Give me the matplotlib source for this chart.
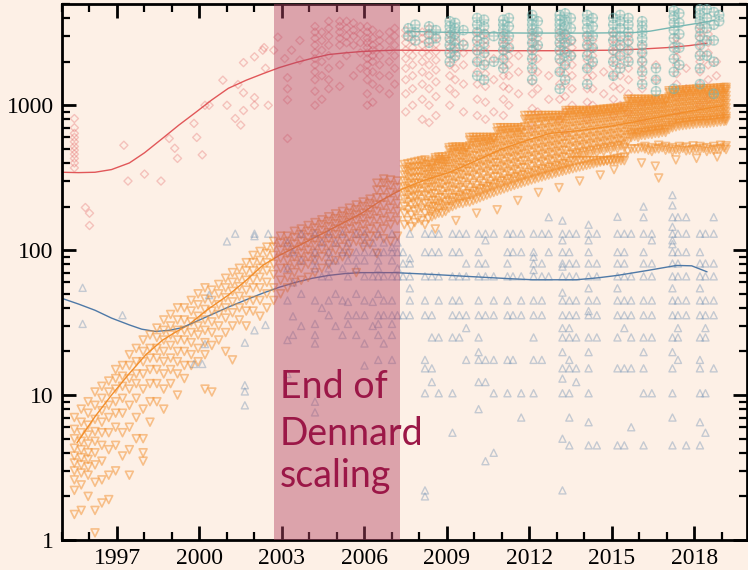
import matplotlib
matplotlib.use("Agg")
import matplotlib.pyplot as plt
from matplotlib.ticker import LogLocator, NullFormatter

# colours
bg = "#fdf0e6"
c_orange = "#f28e2b"
c_red = "#e15759"
c_teal = "#76b7b2"
c_blue = "#4e79a7"

# single-thread performance (orange, down triangles), one column per release date
orange_dates = [1995.45, 1995.7, 1995.95, 1996.2, 1996.45, 1996.7, 1996.95, 1997.2, 1997.45, 1997.7,
                1997.95, 1998.2, 1998.45, 1998.7, 1998.95, 1999.2, 1999.45, 1999.7, 1999.95, 2000.2,
                2000.45, 2000.7, 2000.95, 2001.2, 2001.45, 2001.7, 2001.95, 2002.2, 2002.45, 2002.7,
                2002.95, 2003.2, 2003.45, 2003.7, 2003.95, 2004.2, 2004.45, 2004.7, 2004.95, 2005.2,
                2005.45, 2005.7, 2005.95, 2006.2, 2006.45, 2006.7, 2006.95, 2007.2, 2007.45, 2007.7,
                2007.95, 2008.2, 2008.45, 2008.7, 2008.95, 2009.2, 2009.45, 2009.7, 2009.95, 2010.2,
                2010.45, 2010.7, 2010.95, 2011.2, 2011.45, 2011.7, 2011.95, 2012.2, 2012.45, 2012.7,
                2012.95, 2013.2, 2013.45, 2013.7, 2013.95, 2014.2, 2014.45, 2014.7, 2014.95, 2015.2,
                2015.45, 2015.7, 2015.95, 2016.2, 2016.45, 2016.7, 2016.95, 2017.2, 2017.45, 2017.7,
                2017.95, 2018.2, 2018.45, 2018.7, 2018.95, 2019.15]
orange_vals = [
    [1.5, 2.2, 2.6, 3.0, 3.4, 3.8, 4.3, 5.0, 5.8, 7.0],
    [1.6, 2.4, 2.9, 3.3, 3.7, 4.2, 4.8, 5.5, 6.5, 8.0],
    [2.0, 2.8, 3.2, 3.6, 4.0, 4.6, 5.3, 6.2, 7.5, 9.0],
    [1.12, 1.6, 2.5, 3.3, 4.0, 4.8, 5.6, 6.8, 8.5, 10.5],
    [1.8, 2.6, 3.5, 4.5, 5.5, 6.5, 7.8, 9.5, 11.5],
    [1.9, 2.8, 4.2, 5.5, 7.0, 8.5, 10.5, 12.5],
    [3.0, 4.5, 6.0, 7.5, 9.0, 11, 13, 15],
    [3.8, 5.5, 7.5, 9.5, 11.5, 13.5, 16],
    [2.8, 4.2, 6.0, 8.5, 11, 13, 16, 19],
    [5.0, 7.0, 9.5, 12, 14, 17, 21],
    [3.5, 4.0, 5.0, 8.0, 11, 14, 17, 20, 24],
    [6.5, 9, 12, 15, 18, 21, 26],
    [9, 12, 15, 18, 21, 25, 29],
    [8, 11, 14, 17, 20, 24, 28, 33],
    [12, 15, 18, 22, 26, 30, 36],
    [10, 14, 17, 20, 24, 28, 33, 40],
    [13, 16, 20, 24, 28, 33, 40],
    [16, 19, 23, 27, 32, 38, 45],
    [17, 21, 26, 30, 35, 42, 50],
    [11, 19, 23, 28, 33, 39, 46, 55],
    [10.5, 22, 27, 32, 38, 45, 53],
    [24, 30, 36, 42, 50, 58],
    [20, 27, 34, 40, 47, 55, 64],
    [17.5, 30, 37, 44, 52, 60, 70],
    [33, 40, 48, 56, 65, 75],
    [30, 38, 45, 53, 62, 72, 82],
    [38, 45, 55, 63, 72, 82, 92],
    [35, 45, 55, 65, 75, 85, 98],
    [40, 50, 60, 72, 82, 95, 105],
    [45, 55, 68, 80, 92, 105, 115],
    [50, 62, 75, 88, 100, 112, 125],
    [55, 65, 75, 85, 95, 105, 115, 125],
    [60, 70, 80, 90, 100, 110, 122, 135],
    [62, 75, 85, 95, 105, 115, 128, 140],
    [65, 80, 90, 100, 112, 122, 135, 148],
    [70, 85, 95, 108, 118, 130, 142, 155],
    [75, 90, 102, 115, 125, 137, 150, 162],
    [80, 95, 108, 120, 132, 145, 158, 170],
    [85, 100, 115, 128, 140, 152, 165, 178],
    [90, 105, 120, 135, 148, 160, 172, 185],
    [95, 110, 125, 140, 155, 168, 180, 195],
    [70, 115, 130, 145, 160, 175, 190, 205],
    [105, 120, 135, 150, 165, 180, 200, 215],
    [110, 125, 140, 158, 175, 190, 210, 225],
    [95, 125, 145, 165, 185, 205, 230, 260, 290],
    [120, 140, 160, 180, 205, 230, 260, 290, 310],
    [115, 150, 170, 195, 220, 250, 280, 305],
    [125, 160, 185, 210, 240, 270, 300],
    [150, 180, 200, 225, 250, 275, 300, 330, 360, 390],
    [145, 175, 205, 230, 255, 280, 310, 340, 370, 400],
    [165, 190, 215, 240, 265, 290, 320, 350, 380, 410],
    [150, 180, 210, 240, 270, 300, 330, 360, 390, 420],
    [170, 185, 200, 220, 245, 270, 295, 320, 345, 370, 385, 400],
    [180, 195, 210, 230, 260, 290, 320, 350, 380, 410, 425, 440],
    [185, 200, 215, 240, 270, 300, 330, 360, 390, 410, 425, 440],
    [200, 215, 230, 260, 290, 325, 360, 395, 430, 470, 495, 515],
    [210, 225, 240, 270, 300, 335, 370, 405, 440, 480, 500, 515],
    [215, 230, 245, 280, 315, 350, 385, 420, 455, 490, 505, 515],
    [220, 240, 255, 290, 330, 370, 410, 450, 500, 550, 575, 600],
    [230, 250, 265, 300, 340, 380, 420, 465, 510, 555, 580, 600],
    [240, 260, 275, 310, 350, 390, 430, 475, 520, 560, 580, 600],
    [250, 270, 285, 320, 360, 400, 440, 485, 530, 570, 590, 600],
    [260, 280, 300, 340, 380, 425, 470, 520, 570, 630, 670, 700],
    [270, 290, 310, 350, 390, 435, 480, 530, 580, 640, 675, 700],
    [280, 300, 320, 360, 400, 445, 490, 540, 590, 645, 675, 700],
    [290, 310, 330, 370, 410, 455, 500, 550, 600, 650, 680, 700],
    [300, 320, 345, 390, 440, 490, 545, 605, 670, 750, 800, 850],
    [310, 330, 355, 400, 450, 500, 555, 615, 680, 760, 810, 850],
    [320, 340, 365, 410, 460, 510, 565, 625, 690, 770, 815, 850],
    [330, 350, 375, 420, 470, 520, 575, 635, 700, 775, 820, 850],
    [340, 360, 385, 430, 480, 530, 585, 645, 710, 780, 820, 850],
    [350, 370, 395, 440, 490, 540, 595, 655, 720, 785, 825, 850],
    [360, 385, 410, 460, 515, 575, 640, 710, 780, 850, 890, 920],
    [370, 415, 440, 470, 525, 585, 650, 720, 790, 860, 895, 920],
    [380, 415, 450, 480, 535, 595, 660, 730, 800, 870, 900, 920],
    [390, 415, 460, 490, 545, 605, 670, 740, 810, 870, 900, 920],
    [400, 415, 470, 500, 555, 615, 680, 750, 820, 880, 910, 930],
    [410, 415, 480, 510, 565, 625, 690, 760, 830, 890, 920, 940],
    [420, 415, 490, 520, 575, 635, 700, 770, 840, 900, 930, 950],
    [430, 415, 500, 530, 585, 645, 710, 780, 850, 910, 940, 960],
    [440, 415, 510, 540, 595, 655, 720, 790, 860, 920, 950, 980],
    [500, 600, 630, 650, 710, 770, 830, 890, 950, 1020, 1060, 1100],
    [500, 600, 630, 650, 710, 770, 830, 890, 950, 1020, 1060, 1100],
    [500, 520, 620, 650, 670, 725, 780, 840, 900, 960, 1030, 1070, 1100],
    [480, 510, 630, 660, 680, 735, 790, 850, 910, 970, 1040, 1070, 1100],
    [315, 500, 530, 640, 670, 690, 745, 800, 860, 920, 980, 1050, 1100],
    [490, 520, 650, 680, 700, 755, 810, 870, 930, 990, 1050, 1080, 1110],
    [480, 510, 700, 730, 760, 820, 880, 950, 1020, 1100, 1180, 1220, 1260],
    [490, 520, 720, 750, 780, 840, 900, 970, 1040, 1110, 1190, 1230, 1270],
    [485, 515, 730, 760, 790, 850, 910, 980, 1050, 1120, 1200, 1240, 1280],
    [495, 525, 740, 770, 800, 860, 920, 990, 1060, 1130, 1210, 1250, 1290],
    [490, 520, 750, 780, 810, 870, 930, 1000, 1070, 1140, 1220, 1260, 1300],
    [480, 510, 750, 780, 810, 870, 930, 1000, 1070, 1140, 1220, 1260, 1300],
    [490, 520, 760, 790, 820, 880, 940, 1010, 1080, 1150, 1230, 1270, 1310],
    [500, 530, 770, 800, 830, 890, 950, 1020, 1090, 1160, 1240, 1280, 1320],
    [495, 525, 780, 810, 840, 900, 960, 1030, 1100, 1170, 1250, 1290, 1330],
]

# releases falling between the columns above (2007 onwards)
orange_mid_dates = [2007.575, 2007.825, 2008.075, 2008.325, 2008.575, 2008.825, 2009.075, 2009.325,
                    2009.575, 2009.825, 2010.075, 2010.325, 2010.575, 2010.825, 2011.075, 2011.325,
                    2011.575, 2011.825, 2012.075, 2012.325, 2012.575, 2012.825, 2013.075, 2013.325,
                    2013.575, 2013.825, 2014.075, 2014.325, 2014.575, 2014.825, 2015.075, 2015.325,
                    2015.575, 2015.825, 2016.075, 2016.325, 2016.575, 2016.825, 2017.075, 2017.325,
                    2017.575, 2017.825, 2018.075, 2018.325, 2018.575, 2018.825, 2019.075]
orange_mid_vals = [
    [160, 190, 215, 240, 265, 290, 320, 350, 375, 395],
    [155, 185, 210, 235, 260, 290, 315, 345, 375, 405],
    [160, 195, 225, 255, 285, 315, 345, 375, 400, 415],
    [165, 190, 210, 235, 260, 285, 310, 335, 360, 390, 410],
    [140, 175, 200, 220, 245, 275, 305, 335, 365, 395, 420, 435],
    [180, 205, 230, 255, 285, 315, 345, 375, 400, 420, 440],
    [195, 220, 245, 275, 305, 340, 375, 410, 450, 490, 510],
    [160, 205, 230, 255, 285, 320, 350, 385, 420, 460, 500, 515],
    [210, 235, 260, 295, 330, 365, 400, 435, 470, 500, 515],
    [215, 245, 270, 310, 350, 390, 430, 475, 525, 575, 600],
    [180, 225, 255, 280, 320, 360, 400, 445, 490, 530, 575, 600],
    [235, 265, 290, 330, 370, 410, 455, 500, 540, 580, 600],
    [245, 275, 300, 340, 380, 420, 465, 510, 550, 585, 600],
    [190, 255, 290, 320, 360, 400, 450, 495, 545, 600, 660, 700],
    [265, 300, 330, 370, 410, 460, 505, 555, 610, 670, 700],
    [275, 310, 340, 380, 425, 470, 515, 565, 620, 675, 700],
    [220, 285, 320, 350, 390, 435, 480, 525, 575, 625, 680, 700],
    [295, 330, 370, 415, 465, 520, 575, 640, 710, 800, 850],
    [305, 340, 380, 425, 475, 530, 585, 650, 720, 805, 850],
    [250, 315, 350, 390, 435, 485, 540, 595, 660, 730, 810, 850],
    [325, 360, 400, 445, 495, 550, 605, 670, 740, 815, 850],
    [335, 370, 410, 455, 505, 560, 615, 680, 750, 820, 850],
    [270, 345, 380, 420, 465, 515, 570, 625, 690, 755, 825, 850],
    [355, 395, 435, 485, 545, 605, 675, 745, 815, 885, 920],
    [365, 415, 455, 500, 555, 615, 685, 755, 825, 890, 920],
    [300, 375, 415, 465, 510, 565, 625, 695, 765, 835, 895, 920],
    [385, 415, 475, 520, 575, 635, 705, 775, 840, 895, 920],
    [395, 415, 485, 530, 585, 645, 715, 785, 850, 905, 925],
    [330, 405, 415, 495, 540, 595, 655, 725, 795, 860, 915, 935],
    [415, 415, 505, 550, 605, 665, 735, 805, 870, 925, 945],
    [360, 425, 415, 515, 560, 615, 675, 745, 815, 880, 935, 955],
    [435, 415, 525, 570, 625, 690, 755, 825, 890, 945, 970],
    [480, 560, 620, 680, 740, 800, 860, 920, 985, 1060, 1100],
    [500, 610, 640, 680, 740, 800, 860, 920, 985, 1060, 1100],
    [400, 510, 620, 650, 695, 750, 810, 870, 930, 995, 1065, 1100],
    [490, 630, 660, 705, 760, 820, 880, 940, 1005, 1070, 1100],
    [380, 500, 640, 670, 715, 770, 830, 890, 950, 1015, 1075, 1100],
    [510, 650, 680, 725, 780, 840, 900, 960, 1020, 1080, 1105],
    [500, 680, 720, 790, 850, 915, 985, 1060, 1140, 1220, 1260],
    [420, 495, 710, 750, 810, 870, 935, 1005, 1075, 1150, 1230, 1265],
    [505, 725, 760, 820, 880, 945, 1015, 1085, 1160, 1240, 1275],
    [490, 735, 770, 830, 890, 955, 1025, 1095, 1170, 1250, 1285],
    [430, 500, 745, 780, 840, 900, 965, 1035, 1105, 1180, 1260, 1295],
    [505, 750, 785, 840, 900, 965, 1035, 1105, 1180, 1260, 1300],
    [495, 755, 790, 850, 910, 975, 1045, 1115, 1190, 1270, 1305],
    [440, 500, 765, 800, 860, 920, 985, 1055, 1125, 1200, 1280, 1315],
    [510, 775, 810, 870, 930, 995, 1065, 1135, 1210, 1290, 1325],
]

# clock frequency in MHz (red diamonds)
red_dates = [1995.45, 1995.85, 1996.0, 1997.25, 1997.4, 1998.0, 1998.6, 1998.9, 1999.1, 1999.2,
             1999.8, 1999.9, 2000.1, 2000.2, 2000.35, 2000.85, 2001.0, 2001.3, 2001.4, 2001.5,
             2001.6, 2002.0, 2002.3, 2002.35, 2002.4, 2002.5, 2002.7, 2002.85, 2003.1, 2003.2,
             2003.35, 2003.65, 2004.2, 2004.45, 2004.7, 2005.1, 2005.35, 2005.6, 2005.85, 2006.1,
             2006.3, 2006.55, 2006.9, 2007.1, 2007.5, 2007.75, 2008.1, 2008.35, 2008.6, 2009.1,
             2009.3, 2009.6, 2010.1, 2010.4, 2010.7, 2011.05, 2011.25, 2011.6, 2012.1, 2012.3,
             2012.7, 2013.1, 2013.3, 2013.55, 2014.1, 2014.3, 2014.7, 2015.05, 2015.3, 2015.6,
             2016.1, 2016.6, 2017.35, 2017.7, 2018.2, 2018.5, 2018.8]
red_vals = [
    [370, 400, 430, 460, 490, 520, 560, 600, 640, 700, 810],
    [197], [148, 180], [530], [300], [335], [300], [590], [505], [430],
    [750], [600], [455], [1000], [1000], [1490], [1000], [810], [1390], [730],
    [920, 1220, 1970], [1000, 1130, 2160], [2400], [2500], [1800], [1000], [2400], [2950],
    [2100], [590, 1090, 1300, 1550], [2400], [2050, 2800],
    [1000, 1250, 1500, 1700, 1900, 2100, 2300, 2600, 2900, 3200, 3500],
    [1100, 1600, 2000, 2400, 2800, 3200],
    [1300, 1500, 1800, 2200, 2600, 3000, 3400, 3800],
    [1350, 1900, 2600, 2900, 3200, 3500, 3800],
    [2200, 2700, 3000, 3400, 3800],
    [1600, 2600, 3000, 3300, 3700],
    [1800, 2300, 2700, 3100, 3500],
    [1000, 1200, 1500, 1700, 1900, 2100, 2300, 2500, 2700, 2900, 3200, 3500],
    [1050, 1400, 1700, 2000, 2200, 2400, 2600, 2900, 3300],
    [1300, 1600, 1900, 2200, 2500, 2800, 3100],
    [1200, 1600, 2000, 2400, 2800, 3200],
    [1400, 1800, 2200, 2600, 3000, 3400],
    [900, 1200, 1500, 1800, 2100, 2400, 2700, 3000, 3300],
    [1000, 1300, 1600, 1900, 2200, 2500, 2800, 3100],
    [800, 1100, 1400, 1700, 2000, 2300, 2600, 2900, 3200],
    [760, 1000, 1300, 1600, 1900, 2200, 2500, 2800, 3100, 3400],
    [850, 1150, 1450, 1750, 2050, 2350, 2650, 2950],
    [1000, 1300, 1600, 1900, 2200, 2500, 2800, 3100],
    [1200, 1500, 1800, 2100, 2400, 2700, 3000],
    [900, 1400, 1900, 2300, 2700],
    [850, 1100, 1400, 1700, 2000, 2300, 2600, 2900, 3200],
    [800, 1050, 1350, 1650, 1950, 2250, 2550, 2850, 3150],
    [900, 1500, 2100],
    [850, 1100, 1350, 1600, 1850, 2100, 2350, 2600, 2850, 3100],
    [1000, 1300, 1600, 1900, 2200, 2500, 2800],
    [1200, 1700, 2200],
    [700, 950, 1200, 1450, 1700, 1950, 2200, 2450, 2700, 2950, 3200],
    [900, 1300, 1700, 2100, 2500, 2900],
    [1100, 1600],
    [800, 1100, 1400, 1700, 2000, 2300, 2600, 2900, 3200],
    [640, 900, 1150, 1400, 1650, 1900, 2150, 2400, 2650, 2900, 3150],
    [1000, 1300, 1600, 1900, 2200, 2500, 2800],
    [800, 1050, 1300, 1550, 1800, 2050, 2300, 2550, 2800, 3050],
    [1000, 1300, 1600, 1900, 2200, 2500, 2800],
    [1200, 1700],
    [850, 1100, 1350, 1600, 1850, 2100, 2350, 2600, 2850, 3100],
    [1000, 1300, 1600, 1900, 2200, 2500, 2800],
    [900, 1200, 1500, 1800, 2100, 2400, 2700, 3000],
    [800, 1050, 1300, 1550, 1800, 2050, 2300, 2550],
    [1100, 1500, 1900],
    [900, 1150, 1400, 1650, 1900, 2150, 2400, 2650, 2900],
    [1300, 1800],
    [1000, 1400, 1700, 2000, 2300, 2600, 2900, 3200, 3500],
    [1100, 1500, 1900, 2300, 2700, 3100],
    [1600, 2000],
]

# turbo frequency in MHz (teal circled plus)
teal_dates = [2007.6, 2007.85, 2008.35, 2008.6, 2009.1, 2009.3, 2009.6, 2010.1, 2010.35, 2010.7,
              2011.05, 2011.25, 2012.1, 2012.3, 2013.1, 2013.3, 2013.5, 2014.1, 2014.3, 2015.05,
              2015.3, 2015.6, 2016.1, 2016.6, 2017.25, 2017.45, 2018.2, 2018.45, 2018.7, 2018.9]
teal_vals = [
    [3000, 3400], [2800, 3200, 3600], [2700, 3100, 3500], [2900, 3300],
    [2000, 2300, 2600, 2900, 3200, 3500, 3800],
    [2200, 2500, 2800, 3100, 3400, 3700],
    [2600, 3300],
    [1600, 2000, 2400, 2800, 3200, 3600, 4000],
    [1500, 1900, 2300, 2700, 3100, 3500, 3900],
    [2000, 3000],
    [1800, 2100, 2400, 2700, 3000, 3300, 3600, 3900],
    [2500, 3000, 3500, 4000],
    [1500, 1800, 2100, 2400, 2700, 3000, 3300, 3600, 3900, 4200],
    [2600, 3200, 3800],
    [1300, 1700, 2100, 2400, 2700, 3000, 3300, 3600, 3900, 4200],
    [1500, 1900, 2300, 2700, 3100, 3500, 3900, 4300],
    [2200, 2800, 3400, 4000],
    [1400, 1800, 2200, 2600, 3000, 3400, 3800, 4200],
    [2000, 2500, 3000, 3500, 4000],
    [1600, 2000, 2400, 2800, 3200, 3600, 4000],
    [1800, 2200, 2600, 3000, 3400, 3800, 4200],
    [2000, 2400, 2800, 3200, 3600, 4000],
    [1400, 1700, 2000, 2300, 2600, 2900, 3200, 3500, 3800],
    [1250, 1500, 1800],
    [1300, 1700, 2100, 2500, 2900, 3300, 3700, 4100, 4500],
    [1900, 2500, 3100, 3700, 4300],
    [1400, 1800, 2200, 2600, 3000, 3400, 3800, 4200, 4600],
    [2200, 2800, 3400, 4000, 4600],
    [1200, 2000, 2800, 3600, 4400],
    [3800, 4200],
]

# typical power in watts (blue up triangles)
blue_dates = [1995.75, 1997.2, 1999.8, 2000.1, 2000.2, 2000.35, 2001.0, 2001.3, 2001.65, 2002.0,
              2002.4, 2002.5, 2003.2, 2003.4, 2003.7, 2004.2, 2004.45, 2004.7, 2004.95, 2005.2,
              2005.4, 2005.7, 2006.0, 2006.3, 2006.5, 2006.7, 2007.0, 2007.2, 2007.4, 2007.65,
              2008.2, 2008.45, 2008.7, 2009.2, 2009.45, 2009.7, 2010.15, 2010.4, 2010.7, 2011.2,
              2011.4, 2011.7, 2012.15, 2012.45, 2012.7, 2013.2, 2013.45, 2013.7, 2014.15, 2014.45,
              2015.2, 2015.45, 2015.7, 2016.15, 2016.45, 2017.2, 2017.4, 2017.7, 2018.2, 2018.4,
              2018.7]
blue_vals = [
    [55, 31], [35.6], [16.4], [16.4], [22.5], [49], [115], [130], [8.5, 10.6, 11.7, 23],
    [125, 130, 28], [30.5], [130],
    [113, 75, 45, 24, 14],
    [97, 60, 35, 26],
    [130, 85, 50, 30],
    [130, 97, 85, 75, 45, 31, 26, 22.7, 9, 7.6],
    [113, 66, 40],
    [130, 97, 85, 75, 66, 45, 35.6],
    [113, 85, 50, 30],
    [130, 97, 75, 45, 26],
    [113, 97, 85, 66, 44, 35.6, 31],
    [130, 97, 85, 75, 50, 35.6, 26],
    [130, 113, 97, 85, 66, 45, 35.6, 22.7, 16],
    [113, 97, 66, 44, 30],
    [130, 97, 85, 75, 66, 50, 35.6, 31, 26, 17.5],
    [113, 97, 66, 45, 35.6, 22.7],
    [130, 105, 97, 85, 66, 45, 35.6, 31, 26, 17.5],
    [113, 97, 75, 66, 35.6],
    [66, 81, 97, 35.6],
    [66, 81, 88, 130, 35.6, 45, 54.6],
    [66, 97, 130, 35.6, 45, 17.5, 15.3, 10.3, 2.2, 2.0],
    [66, 97, 130, 35.6, 25, 15.3, 12.3],
    [66, 97, 130, 45, 25, 10.3],
    [66, 97, 130, 35.6, 45, 25, 10.3, 5.5],
    [66, 97, 130, 35.6, 45, 25],
    [66, 81, 130, 35.6, 29, 17.5],
    [66, 81, 97, 130, 45, 35.6, 25, 19.8, 17.5, 12.3, 8],
    [66, 81, 117, 130, 35.6, 17.5, 12.3, 3.5],
    [66, 130, 45, 35.6, 17.5, 10.3, 4],
    [66, 81, 97, 130, 45, 35.6, 17.5, 10.3],
    [66, 97, 130, 35.6, 17.5],
    [66, 97, 130, 35.6, 45, 10.3, 7],
    [66, 73, 81, 90, 97, 130, 45, 35.6, 25, 17.5, 10.3],
    [66, 81, 130, 35.6, 45, 17.5],
    [66, 97, 169, 130],
    [66, 77, 81, 97, 117, 130, 160, 45, 51, 35.6, 29, 25, 19.8, 15.3, 13, 10.3, 5, 2.2],
    [66, 81, 97, 130, 45, 35.6, 29, 25, 17.5, 15.3, 10.3, 7, 4.5],
    [66, 81, 130, 45, 35.6, 25, 15.3, 12.3],
    [66, 81, 97, 117, 130, 150, 54.6, 45, 38, 35.6, 25, 19.8, 15.3, 10.3, 6.5, 4.5],
    [66, 81, 130, 45, 35.6, 25, 4.5],
    [66, 81, 97, 130, 170, 54.6, 45, 35.6, 25, 15.3, 4.5],
    [66, 81, 97, 130, 45, 35.6, 29, 15.3, 4.5],
    [66, 130, 45, 35.6, 25, 15.3, 6],
    [66, 81, 97, 130, 169, 200, 45, 35.6, 25, 19.8, 15.3, 10.3, 4.5],
    [66, 81, 117, 130, 45, 35.6, 25, 10.3],
    [66, 81, 97, 110, 117, 130, 145, 169, 204, 240, 54.6, 45, 35.6, 25, 19.8, 15.3, 10.3, 7, 4.5],
    [66, 81, 97, 130, 169, 45, 35.6, 29, 25, 17.5],
    [66, 97, 130, 169, 45, 35.6, 4.5],
    [66, 81, 97, 130, 54.6, 45, 35.6, 25, 17.5, 15.3, 10.3, 6.5, 4.5],
    [66, 81, 130, 45, 35.6, 29, 25, 10.3, 5.5],
    [66, 81, 169, 130, 45, 35.6, 15.3],
]

# smoothed trend lines
red_line_x = [1995.0, 1995.6, 1996.2, 1996.8, 1997.45, 1998.0, 1998.65, 1999.25, 1999.85, 2000.45,
              2001.05, 2001.7, 2002.3, 2002.9, 2003.5, 2004.1, 2004.7, 2005.3, 2005.9, 2006.5,
              2007.1, 2009.0, 2011.0, 2013.0, 2015.0, 2016.0, 2017.0, 2017.8, 2018.45]
red_line_y = [345, 343, 345, 360, 400, 470, 590, 730, 890, 1090,
              1310, 1490, 1650, 1820, 1970, 2110, 2240, 2300, 2350, 2380,
              2400, 2390, 2380, 2380, 2400, 2440, 2500, 2580, 2680]
orange_line_x = [1995.55, 1996.2, 1996.8, 1997.45, 1998.05, 1998.65, 1999.1, 1999.6, 2000.3, 2001.05,
                 2001.7, 2002.3, 2002.9, 2003.5, 2004.1, 2004.7, 2005.3, 2005.9, 2006.6, 2007.4,
                 2008.2, 2009.1, 2010.0, 2011.0, 2012.0, 2012.75, 2013.85, 2015.0, 2016.0, 2017.0,
                 2018.0, 2019.0]
orange_line_y = [4.7, 7.1, 10, 14.1, 19, 23.9, 27, 30.5, 39, 49,
                 62, 78.6, 92, 105, 120, 137, 157, 180, 220, 266,
                 305, 345, 410, 500, 580, 640, 670, 720, 780, 850,
                 920, 990]
blue_line_x = [1995.0, 1995.6, 1996.2, 1996.8, 1997.45, 1997.9, 1998.4, 1998.9, 1999.3, 1999.6,
               2000.3, 2001.05, 2001.7, 2002.3, 2002.9, 2003.5, 2004.1, 2004.7, 2005.3, 2005.9,
               2007.1, 2008.5, 2009.7, 2011.0, 2012.1, 2013.7, 2014.5, 2015.2, 2016.3, 2017.35,
               2017.9, 2018.45]
blue_line_y = [46.5, 42.5, 38.5, 34, 30.5, 28.5, 27.5, 28, 29, 30.5,
               35, 40.5, 45.5, 50.5, 55.5, 60, 64, 67, 69, 70,
               70, 68, 66, 64, 62.5, 62.5, 64.5, 67, 72.5, 78.5,
               78, 71]
teal_line_x = [2007.55, 2008.5, 2010.0, 2012.0, 2014.0, 2015.75, 2016.4, 2017.0, 2017.6, 2018.2, 2018.7]
teal_line_y = [3250, 3200, 3170, 3150, 3150, 3170, 3250, 3400, 3550, 3700, 3850]

# Dennard scaling ends
band_start, band_end = 2002.7, 2007.3


def flatten(dates, vals):
    xs, ys = [], []
    for d, col in zip(dates, vals):
        for v in col:
            xs.append(d)
            ys.append(v)
    return xs, ys


fig = plt.figure(figsize=(7.48, 5.70), dpi=100)
fig.patch.set_facecolor(bg)
ax = fig.add_axes([62 / 748, 30 / 570, 684.7 / 748, 536 / 570])
ax.set_facecolor(bg)

# trend lines sit under the point clouds
ax.plot(red_line_x, red_line_y, color=c_red, lw=1.0, zorder=1.5)
ax.plot(orange_line_x, orange_line_y, color=c_orange, lw=1.0, zorder=1.5)
ax.plot(blue_line_x, blue_line_y, color=c_blue, lw=1.0, zorder=1.5)
ax.plot(teal_line_x, teal_line_y, color=c_teal, lw=1.0, zorder=1.5)

rx, ry = flatten(red_dates, red_vals)
ax.scatter(rx, ry, marker="D", s=17, facecolors="none", edgecolors=c_red,
           linewidths=1.0, alpha=0.3, zorder=2)

ox, oy = flatten(orange_dates + orange_mid_dates, orange_vals + orange_mid_vals)
ax.scatter(ox, oy, marker="v", s=32, facecolors="none", edgecolors=c_orange,
           linewidths=1.2, alpha=0.5, zorder=3)

bx, by = flatten(blue_dates, blue_vals)
ax.scatter(bx, by, marker="^", s=26, facecolors="none", edgecolors=c_blue,
           linewidths=1.0, alpha=0.32, zorder=4)

tx, ty = flatten(teal_dates, teal_vals)
ax.scatter(tx, ty, marker="o", s=44, facecolors="none", edgecolors=c_teal,
           linewidths=1.1, alpha=0.5, zorder=5)
ax.scatter(tx, ty, marker="+", s=44, color=c_teal, linewidths=1.1, alpha=0.5, zorder=5)

ax.axvspan(band_start, band_end, color="#b44565", alpha=0.45, lw=0, zorder=7)

txt = dict(color="#9b1747", fontsize=27, family="Lato", zorder=8, ha="left", va="baseline")
ax.text(2002.93, 9.54, "End of", **txt)
ax.text(2002.93, 4.52, "Dennard", **txt)
ax.text(2002.93, 2.32, "scaling", **txt)

ax.set_yscale("log")
ax.set_xlim(1995, 2019.9)
ax.set_ylim(1, 5000)

ax.set_xticks([1997, 2000, 2003, 2006, 2009, 2012, 2015, 2018])
ax.set_xticks(range(1995, 2020), minor=True)
ax.set_yticks([1, 10, 100, 1000])
ax.set_yticklabels(["1", "10", "100", "1000"])
ax.yaxis.set_minor_locator(LogLocator(base=10, subs=range(2, 10), numticks=20))
ax.yaxis.set_minor_formatter(NullFormatter())

ax.tick_params(which="both", direction="in", top=True, right=True, color="black")
ax.tick_params(which="major", length=10, width=2, labelsize=17, pad=6)
ax.tick_params(which="minor", length=5.5, width=1.6)
for lab in ax.get_xticklabels() + ax.get_yticklabels():
    lab.set_family("Liberation Serif")
for sp in ax.spines.values():
    sp.set_linewidth(2)

fig.savefig("out.png", dpi=100, facecolor=bg)
